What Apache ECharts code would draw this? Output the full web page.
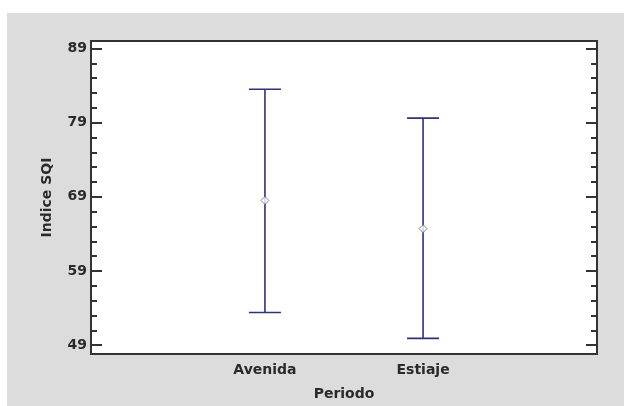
<!DOCTYPE html>
<html>
<head>
<meta charset="utf-8">
<script src="https://cdn.jsdelivr.net/npm/echarts@6/dist/echarts.min.js"></script>
<style>html,body{margin:0;padding:0;background:#fff;}#c{width:624px;height:406px;}</style>
</head>
<body>
<div id="c"></div>
<script>
var categories = ['Avenida', 'Estiaje'];
var catPos = [1, 2];
var means = [68.5, 64.7];
var lower = [53.4, 49.9];
var upper = [83.5, 79.6];
var majorTicks = [49, 59, 69, 79, 89];
var minorTicks = [51, 53, 55, 57, 61, 63, 65, 67, 71, 73, 75, 77, 81, 83, 85, 87];

var yMin = 47.8, yMax = 90;
var font = 'DejaVu Sans, sans-serif';
var barColor = '#2c2f86';
var txtColor = '#2a2a2a';

var chart = echarts.init(document.getElementById('c'));

function yAx(pos, ticks, len, labels) {
  return {
    type: 'value', position: pos, min: yMin, max: yMax,
    splitLine: { show: false },
    axisLine: { show: true, onZero: false, lineStyle: { color: '#333', width: 2 } },
    axisTick: { show: true, inside: true, length: len, customValues: ticks, lineStyle: { color: '#333', width: 2 } },
    axisLabel: labels ? { show: true, customValues: ticks, margin: 4, fontFamily: font, fontWeight: 'bold', fontSize: 14, color: txtColor } : { show: false },
    name: labels ? 'Indice SQI' : '',
    nameLocation: 'middle', nameGap: 37, nameRotate: 90,
    nameTextStyle: { fontFamily: font, fontWeight: 'bold', fontSize: 14, color: txtColor }
  };
}

var errData = catPos.map(function (x, i) { return [x, lower[i], upper[i]]; });
var meanData = catPos.map(function (x, i) { return [x, means[i]]; });

chart.setOption({
  backgroundColor: '#ffffff',
  animation: false,
  graphic: [{
    type: 'rect', z: -10, silent: true,
    shape: { x: 7, y: 13, width: 800, height: 600 },
    style: { fill: '#dcdcdc' }
  }],
  grid: { left: 91, right: 27, top: 41, bottom: 50, show: true, backgroundColor: '#ffffff', borderColor: '#333', borderWidth: 2 },
  xAxis: {
    type: 'value', min: -0.1, max: 3.1,
    splitLine: { show: false },
    axisLine: { show: true, onZero: false, lineStyle: { color: '#333', width: 2 } },
    axisTick: { show: false },
    axisLabel: {
      customValues: catPos, margin: 9,
      formatter: function (v) { var i = catPos.indexOf(v); return i >= 0 ? categories[i] : ''; },
      fontFamily: font, fontWeight: 'bold', fontSize: 14, color: txtColor
    },
    name: 'Periodo', nameLocation: 'middle', nameGap: 33,
    nameTextStyle: { fontFamily: font, fontWeight: 'bold', fontSize: 14, color: txtColor }
  },
  yAxis: [
    yAx('left', majorTicks, 11, true),
    yAx('left', minorTicks, 6, false),
    yAx('right', majorTicks, 11, false),
    yAx('right', minorTicks, 6, false)
  ],
  series: [{
    type: 'custom',
    data: errData,
    encode: { x: 0, y: [1, 2] },
    renderItem: function (params, api) {
      var x = api.value(0);
      var lo = api.coord([x, api.value(1)]);
      var hi = api.coord([x, api.value(2)]);
      var hw = 16;
      var st = { stroke: barColor, lineWidth: 1.6 };
      return {
        type: 'group',
        children: [
          { type: 'line', shape: { x1: lo[0], y1: lo[1], x2: hi[0], y2: hi[1] }, style: st },
          { type: 'line', shape: { x1: hi[0] - hw, y1: hi[1], x2: hi[0] + hw, y2: hi[1] }, style: st },
          { type: 'line', shape: { x1: lo[0] - hw, y1: lo[1], x2: lo[0] + hw, y2: lo[1] }, style: st }
        ]
      };
    }
  }, {
    type: 'scatter',
    data: meanData,
    symbol: 'diamond',
    symbolSize: 8,
    z: 5,
    itemStyle: { color: '#ffffff', borderColor: '#666', borderWidth: 1 }
  }]
});
</script>
</body>
</html>
